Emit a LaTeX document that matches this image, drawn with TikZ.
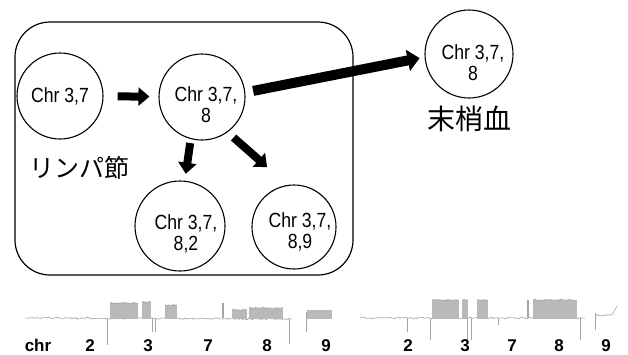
\documentclass[tikz,border=0pt]{standalone}
\usepackage{fontspec}
\setmainfont{Liberation Sans}
\newfontfamily\cellfont{Liberation Sans}[FakeStretch=0.86]
\newfontfamily\jpfont{Noto Sans CJK JP}
\usepackage{tikz}
\usetikzlibrary{positioning}
\usetikzlibrary{arrows.meta}
\usetikzlibrary{decorations.pathmorphing}

\begin{document}
\begin{tikzpicture}[x=1pt, y=-1pt, node distance=4pt,
    cell/.style={circle, draw, line width=1.1pt, inner sep=0pt},
    cell text/.style={font=\cellfont\fontsize{20.5}{21}\selectfont, align=center, inner sep=0pt},
    push/.style={line width=8pt, -{Triangle[length=11pt,width=18pt]}},
    site/.style={font=\jpfont\fontsize{25}{25}\selectfont, inner sep=0pt},
    trace/.style={gray!70, line width=0.6pt},
    noisy/.style={decorate, decoration={random steps, segment length=1.5pt, amplitude=0.8pt}},
    gain/.style={fill=gray!55},
    chr label/.style={font=\bfseries\fontsize{17}{17}\selectfont, anchor=base, inner sep=0pt}
    ]
    \pgfmathsetseed{7}
    \useasboundingbox (0,0) rectangle (628,354);

    % lymph node
    \draw[line width=1.2pt, rounded corners=35pt] (15,22) rectangle (353,275);
    \node[cell, minimum size=86pt, label={[cell text]center:{Chr 3,7}}] (c37) at (60,96) {};
    \node[cell, minimum size=86pt, label={[cell text, xshift=4pt, yshift=-8pt]center:{Chr 3,7,\\8}}] (c378) at (202,97) {};
    \node[cell, minimum size=90pt, label={[cell text, xshift=6pt, yshift=-8pt]center:{Chr 3,7,\\8,2}}] (c3782) at (180,226) {};
    \node[cell, minimum size=84pt, label={[cell text, xshift=6pt, yshift=-5pt]center:{Chr 3,7,\\8,9}}] (c3789) at (294,227) {};
    \node[site] (lymph) at (79,168) {リンパ節};

    % peripheral blood
    \node[cell, minimum size=88pt, label={[cell text, xshift=4pt, yshift=-9pt]center:{Chr 3,7,\\8}}] (c378pb) at (469,54) {};
    \node[site, font=\jpfont\fontsize{28}{28}\selectfont, below=7pt of c378pb] (blood) {末梢血};

    \draw[push, shorten <=14pt, shorten >=9pt] (c37) -- (c378);
    \draw[push, line width=10pt, -{Triangle[length=12pt,width=21pt]}, shorten <=8pt, shorten >=5pt] (c378.6) -- (c378pb.184);
    \draw[push, shorten <=4pt, shorten >=7pt] (c378.-105) -- (c3782.84.5);
    \draw[push, shorten <=8pt, shorten >=27pt] (c378.-54) -- (c3789.99);

    % copy number traces
    \draw[trace, noisy] (25,318) -- (292,319);
    \draw[trace, noisy] (360,318) -- (585,318);
    \foreach \xa/\xb/\yt in {110/138/303, 142/151/302, 165/177/305, 232/247/310, 249/283/308,
                            432/459/300, 462/468/300, 477/488/300, 533/577/300} {
        \fill[gain] (\xa,319) rectangle (\xb,\yt);
        \draw[trace, noisy] (\xa,\yt) -- (\xb,\yt);
    }
    \foreach \xd/\yd in {107/345, 152/332, 155/332, 289/344,
                         407/332, 430/340, 467/340, 471/340, 498/325, 580/340}
        \draw[trace, line width=1pt] (\xd,318) -- (\xd,\yd);
    \draw[trace, line width=2pt] (223,318) -- (223,303);
    \draw[trace, line width=2.5pt] (528,318) -- (528,300);
    % chr 9
    \draw[trace] (306,312) -- (306,332);
    \fill[gain] (307,319) rectangle (332,310);
    \draw[trace] (595,313) -- (595,330);
    \draw[trace, noisy] (595,315) -- (612,315);
    \draw[trace] (612,315) -- (617,306);

    \node[chr label] (chr) at (38,351) {chr};
    \foreach \name/\xc/\num in {a2/90/2, a3/148/3, a7/208/7, a8/267/8, a9/326/9,
                                b2/408/2, b3/465/3, b7/512/7, b8/559/8, b9/606/9}
        \node[chr label] (\name) at (\xc,351) {\num};
\end{tikzpicture}
\end{document}
